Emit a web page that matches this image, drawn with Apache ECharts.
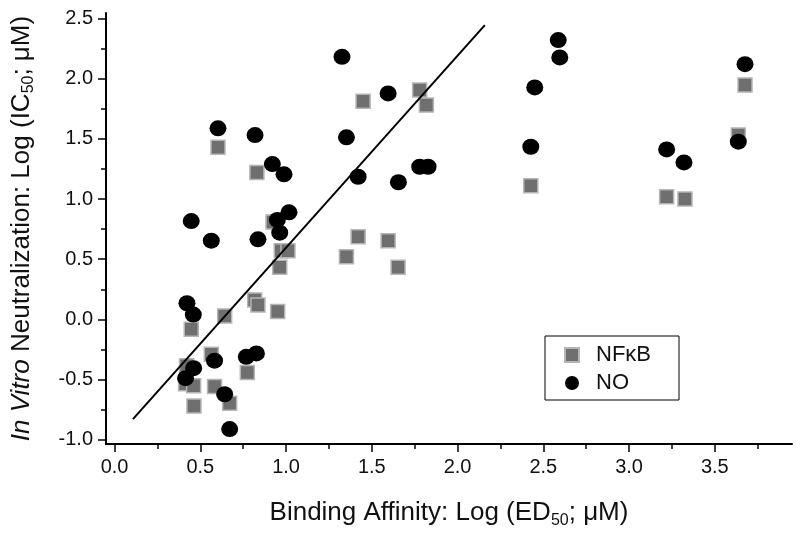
<!DOCTYPE html>
<html>
<head>
<meta charset="utf-8">
<script src="https://cdn.jsdelivr.net/npm/echarts@6/dist/echarts.min.js"></script>
<style>
html,body{margin:0;padding:0;background:#fff;}
#chart{width:800px;height:538px;}
</style>
</head>
<body>
<div id="chart"></div>
<script>
// ---- data ----
const xTickValues = [0, 0.5, 1.0, 1.5, 2.0, 2.5, 3.0, 3.5];
const xMinorValues = [0.25, 0.75, 1.25, 1.75, 2.25, 2.75, 3.25, 3.75];
const yTickValues = [-1.0, -0.5, 0, 0.5, 1.0, 1.5, 2.0, 2.5];
const yMinorValues = [-0.75, -0.25, 0.25, 0.75, 1.25, 1.75, 2.25];

const nfkbX = [0.603, 0.830, 0.924, 0.972, 1.011, 0.963, 0.817, 0.836, 0.951, 0.642,
               0.447, 0.564, 0.420, 0.414, 0.461, 0.583, 0.774, 0.671, 0.463, 1.449,
               1.779, 1.818, 1.420, 1.595, 1.352, 1.653, 2.427, 3.219, 3.326, 3.637, 3.676];
const nfkbY = [1.429, 1.221, 0.808, 0.571, 0.571, 0.433, 0.162, 0.120, 0.065, 0.029,
               -0.081, -0.290, -0.385, -0.535, -0.552, -0.557, -0.441, -0.696, -0.720, 1.813,
               1.905, 1.780, 0.687, 0.654, 0.521, 0.433, 1.110, 1.019, 1.000, 1.531, 1.946];

const noX = [1.326, 1.595, 1.352, 1.420, 1.655, 1.779, 1.828, 2.587, 2.596, 2.450,
             2.427, 3.219, 3.320, 3.637, 3.676, 0.603, 0.819, 0.920, 0.988, 0.447,
             0.564, 0.836, 0.949, 1.017, 0.963, 0.422, 0.459, 0.583, 0.461, 0.414,
             0.768, 0.827, 0.642, 0.671];
const noY = [2.181, 1.877, 1.512, 1.185, 1.139, 1.268, 1.268, 2.320, 2.176, 1.927,
             1.434, 1.412, 1.304, 1.476, 2.120, 1.587, 1.531, 1.290, 1.205, 0.817,
             0.654, 0.665, 0.826, 0.889, 0.720, 0.134, 0.040, -0.343, -0.405, -0.488,
             -0.311, -0.283, -0.622, -0.911];

const fitLineX = [0.107, 2.159];
const fitLineY = [-0.828, 2.444];

const seriesNames = ['NFκB', 'NO'];

// ---- build ----
const zip = (a, b) => a.map((v, i) => [v, b[i]]);
const FONT = '"Liberation Sans", Arial, sans-serif';
const X_MIN = -0.05, X_MAX = 3.95, Y_MIN = -1.035, Y_MAX = 2.545;

const chart = echarts.init(document.getElementById('chart'), null, {renderer: 'canvas'});
const axisLineStyle = {color: '#000', width: 2};

chart.setOption({
  animation: false,
  backgroundColor: '#fff',
  grid: {left: 106, right: 8, top: 13, bottom: 94, containLabel: false},
  xAxis: [{
    type: 'value', min: X_MIN, max: X_MAX, position: 'bottom',
    splitLine: {show: false},
    axisLine: {show: true, onZero: false, lineStyle: axisLineStyle},
    axisTick: {show: true, inside: false, length: 8, lineStyle: {color: '#000', width: 1.5}, customValues: xTickValues},
    axisLabel: {show: true, margin: 13, fontSize: 20, color: '#111', fontFamily: FONT,
      customValues: xTickValues, formatter: v => v.toFixed(1)},
    name: 'Binding Affinity: Log (ED{sub|50}; μM)',
    nameLocation: 'middle', nameGap: 53,
    nameTextStyle: {fontSize: 26, color: '#111', fontFamily: FONT,
      rich: {sub: {fontSize: 16, fontFamily: FONT, color: '#111', padding: [16, 0, 0, 0]}}}
  }, {
    type: 'value', min: X_MIN, max: X_MAX, position: 'bottom',
    splitLine: {show: false},
    axisLine: {show: false, onZero: false},
    axisTick: {show: true, inside: false, length: 5, lineStyle: {color: '#000', width: 1.5}, customValues: xMinorValues},
    axisLabel: {show: false}
  }],
  yAxis: [{
    type: 'value', min: Y_MIN, max: Y_MAX, position: 'left',
    splitLine: {show: false},
    axisLine: {show: true, onZero: false, lineStyle: axisLineStyle},
    axisTick: {show: true, inside: false, length: 8, lineStyle: {color: '#000', width: 1.5}, customValues: yTickValues},
    axisLabel: {show: true, margin: 13, fontSize: 20, color: '#111', fontFamily: FONT,
      customValues: yTickValues, formatter: v => v.toFixed(1)},
    name: '{it|In Vitro} Neutralization: Log (IC{sub|50}; μM)',
    nameLocation: 'middle', nameGap: 69, nameRotate: 90,
    nameTextStyle: {fontSize: 26, color: '#111', fontFamily: FONT,
      rich: {
        it: {fontSize: 26, fontStyle: 'italic', fontFamily: FONT, color: '#111'},
        sub: {fontSize: 16, fontFamily: FONT, color: '#111', padding: [14, 0, 0, 0]}
      }}
  }, {
    type: 'value', min: Y_MIN, max: Y_MAX, position: 'left',
    splitLine: {show: false},
    axisLine: {show: false, onZero: false},
    axisTick: {show: true, inside: false, length: 5, lineStyle: {color: '#000', width: 1.5}, customValues: yMinorValues},
    axisLabel: {show: false}
  }],
  legend: {
    orient: 'vertical', left: 545, top: 336,
    data: [{name: seriesNames[0], icon: 'path://M0,0L10,0L10,10L0,10Z'}, {name: seriesNames[1], icon: 'circle'}],
    symbolKeepAspect: true,
    itemWidth: 38, itemHeight: 14, itemGap: 6,
    padding: [8, 28, 6, 19],
    borderColor: '#000', borderWidth: 1, backgroundColor: '#fff', borderRadius: 0,
    textStyle: {fontSize: 22, color: '#111', fontFamily: FONT}
  },
  series: [{
    name: seriesNames[0], type: 'scatter', xAxisIndex: 0, yAxisIndex: 0,
    symbol: 'rect', symbolSize: [14, 14],
    itemStyle: {color: '#6f6f6f', borderColor: '#b5b5b5', borderWidth: 1.5, opacity: 1},
    data: zip(nfkbX, nfkbY), z: 2
  }, {
    name: seriesNames[1], type: 'scatter', xAxisIndex: 0, yAxisIndex: 0,
    symbol: 'circle', symbolSize: [17, 16],
    itemStyle: {color: '#000', opacity: 1},
    data: zip(noX, noY), z: 3
  }, {
    name: 'fit', type: 'line', xAxisIndex: 0, yAxisIndex: 0,
    showSymbol: false, symbol: 'none',
    lineStyle: {color: '#000', width: 2},
    data: zip(fitLineX, fitLineY), z: 4
  }]
});
</script>
</body>
</html>
